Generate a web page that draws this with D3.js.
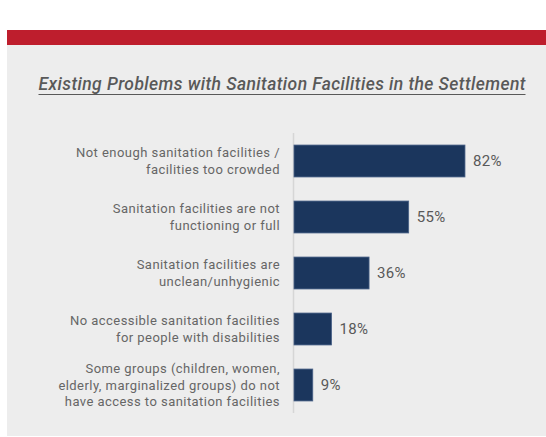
<!DOCTYPE html>
<html>
<head>
<meta charset="utf-8">
<script src="https://cdn.jsdelivr.net/npm/d3@7"></script>
<style>
  html, body { margin: 0; padding: 0; background: #ffffff; }
  svg { display: block; }
</style>
</head>
<body>
<svg id="chart" width="546" height="437"></svg>
<script>
// Survey results: share of respondents reporting each sanitation problem
const categories = [
  ["Not enough sanitation facilities /", "facilities too crowded"],
  ["Sanitation facilities are not", "functioning or full"],
  ["Sanitation facilities are", "unclean/unhygienic"],
  ["No accessible sanitation facilities", "for people with disabilities"],
  ["Some groups (children, women,", "elderly, marginalized groups) do not", "have access to sanitation facilities"]
];
const values = [82, 55, 36, 18, 9];
const title = "Existing Problems with Sanitation Facilities in the Settlement";

const W = 546, H = 437;
const svg = d3.select("#chart");
const font = "Roboto, 'Open Sans', sans-serif";

// header band and panel
svg.append("rect").attr("x", 7).attr("y", 30).attr("width", W - 7).attr("height", 15).attr("fill", "#be1e2d");
svg.append("rect").attr("x", 7).attr("y", 45).attr("width", W - 7).attr("height", H - 45 - 1).attr("fill", "#ededed");

// title, underlined
const t = svg.append("text")
  .attr("x", 282).attr("y", 90)
  .attr("text-anchor", "middle")
  .attr("font-family", font)
  .attr("font-style", "italic")
  .attr("font-weight", 500)
  .attr("font-size", 17.5)
  .attr("textLength", 487)
  .attr("lengthAdjust", "spacing")
  .attr("fill", "#595959")
  .text(title);
svg.append("line")
  .attr("x1", 282 - 487 / 2).attr("x2", 282 + 487 / 2)
  .attr("y1", 94.5).attr("y2", 94.5)
  .attr("stroke", "#595959").attr("stroke-width", 1.2);

// scales
const x0 = 294;
const x = d3.scaleLinear().domain([0, 100]).range([x0, x0 + 208.5]);
const y = d3.scaleBand().domain(d3.range(values.length)).range([133, 413]).paddingInner(0.43).paddingOuter(0.215);

// vertical axis line
svg.append("line")
  .attr("x1", x0 - 0.5).attr("x2", x0 - 0.5)
  .attr("y1", 133).attr("y2", 413)
  .attr("stroke", "#d6d6d6").attr("stroke-width", 1.5);

// bars
svg.append("g").selectAll("rect").data(values).join("rect")
  .attr("x", x(0))
  .attr("y", (d, i) => y(i))
  .attr("width", d => x(d) - x(0))
  .attr("height", y.bandwidth())
  .attr("fill", "#1b365d")
  .attr("stroke", "#4a6288")
  .attr("stroke-width", 0.8);

// value labels
svg.append("g").selectAll("text").data(values).join("text")
  .attr("x", d => x(d) + 8)
  .attr("y", (d, i) => y(i) + y.bandwidth() / 2)
  .attr("dy", "0.35em")
  .attr("font-family", font)
  .attr("font-size", 15)
  .attr("letter-spacing", 0.3)
  .attr("fill", "#595959")
  .text(d => d + "%");

// category labels, multi-line, right aligned
const lineH = 16.6;
const lbl = svg.append("g").selectAll("text").data(categories).join("text")
  .attr("text-anchor", "end")
  .attr("font-family", font)
  .attr("font-size", 13)
  .attr("letter-spacing", 0.45)
  .attr("fill", "#666666");
lbl.each(function (lines, i) {
  const cy = y(i) + y.bandwidth() / 2;
  const top = cy - (lines.length - 1) * lineH / 2;
  d3.select(this).selectAll("tspan").data(lines).join("tspan")
    .attr("x", 280)
    .attr("y", (d, j) => top + j * lineH)
    .attr("dy", "0.35em")
    .text(d => d);
});
</script>
</body>
</html>
